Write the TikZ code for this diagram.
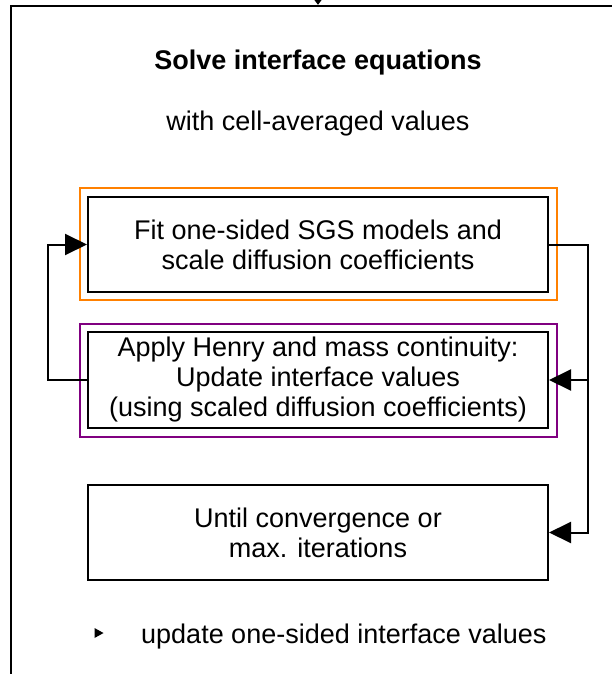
\documentclass[tikz,border=0pt]{standalone}
\usepackage{fontspec}
\setmainfont{Liberation Sans}
\usetikzlibrary{arrows.meta}
\definecolor{orangebox}{HTML}{FF8000}
\definecolor{purplebox}{HTML}{800080}
\begin{document}
\begin{tikzpicture}[x=1pt,y=-1pt,
  txt/.style={font=\fontsize{27}{30}\selectfont},
  box/.style={txt, draw, line width=2pt, minimum width=460pt, minimum height=95pt, align=center, inner sep=0pt},
  frame/.style={draw, line width=2pt, minimum width=477pt, minimum height=112pt, inner sep=0pt},
  arr/.style={line width=2pt, -{Triangle[length=22pt,width=21pt]}}
]
\useasboundingbox (0,0) rectangle (612,674);
\clip (0,0) rectangle (612,674);
% outer frame (partly outside the picture)
\node[draw, line width=2.3pt, minimum width=614pt, minimum height=700pt, inner sep=0pt] (outer) at (318,356) {};
\coordinate (src) at (318,-20);
\draw[line width=1.5pt, -{Triangle[length=5pt,width=7pt]}] (src) -- (outer.north);
% texts
\node[font=\bfseries\fontsize{27}{30}\selectfont, anchor=base, inner sep=0pt] (title) at (318,70) {Solve interface equations};
\node[txt, anchor=base, inner sep=0pt] (sub) at (318,131) {with cell-averaged values};
% coloured frames
\node[frame, draw=orangebox] (of) at (318.5,244) {};
\node[frame, draw=purplebox, minimum height=113pt] (pf) at (318.5,380.5) {};
% boxes
\node[box] (fit) at (318,244.5) {Fit one-sided SGS models and\\scale diffusion coefficients};
\node[box, minimum height=96pt] (apply) at (318,380) {Apply Henry and mass continuity:\\Update interface values\\(using scaled diffusion coefficients)};
\node[box] (until) at (318,532.5) {Until convergence or\\max. iterations};
% connectors
\draw[arr] (apply.west) -- ++(-39,0) |- (fit.west);
\coordinate (rx) at ([xshift=39pt]fit.east);
\draw[arr] (fit.east) -- (rx) |- (until.east);
\draw[arr] (rx) |- (apply.east);
% bullet line
\fill (94.5,628) -- (103.5,633) -- (94.5,638) -- cycle;
\node[txt, anchor=base west, inner sep=0pt] (upd) at (141,643) {update one-sided interface values};
\end{tikzpicture}
\end{document}
